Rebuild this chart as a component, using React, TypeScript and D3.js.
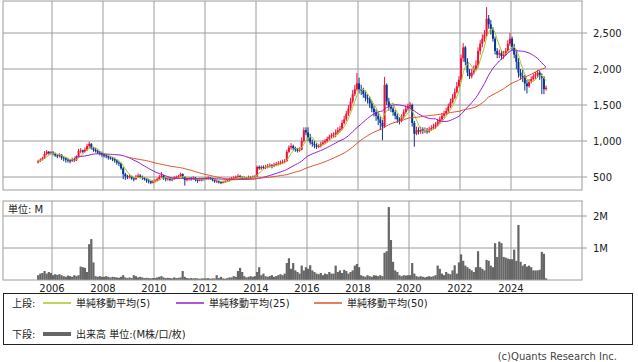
import React from "react";
import * as d3 from "d3";

// Monthly candles, Jun 2005 .. May 2025
const startYear = 2005;
const startMonth = 6;

const open = [
  700, 720, 740, 760, 820, 850, 830,
  840, 820, 800, 790, 810, 770, 760, 740, 730, 720, 750, 730,
  780, 860, 870, 850, 880, 930, 960, 900, 880, 860, 840, 830,
  810, 800, 790, 770, 760, 750, 730, 700, 690, 620, 540, 510,
  500, 510, 480, 470, 500, 520, 500, 490, 470, 450, 440, 420,
  440, 450, 470, 500, 520, 490, 470, 480, 460, 470, 490, 500,
  510, 540, 500, 460, 470, 480, 470, 490, 460, 450, 470, 460,
  470, 480, 490, 480, 460, 440, 440, 430, 420, 430, 440, 450,
  470, 480, 490, 500, 510, 490, 480, 490, 480, 500, 490, 500,
  510, 640, 620, 640, 630, 640, 650, 660, 650, 670, 680, 690,
  700, 710, 720, 850, 910, 930, 900, 880, 870, 880, 1000, 1150,
  1120, 1050, 980, 960, 940, 920, 930, 960, 980, 1000, 1030, 1060,
  1080, 1090, 1120, 1150, 1170, 1250, 1300, 1380, 1450, 1550, 1650, 1720,
  1800, 1720, 1700, 1650, 1600, 1580, 1520, 1450, 1400, 1350, 1300, 1250,
  1200, 1780, 1550, 1480, 1450, 1400, 1350, 1300, 1280, 1330, 1400, 1450,
  1480, 1500, 1250, 1100, 1150, 1130, 1160, 1140, 1150, 1130, 1160, 1180,
  1200, 1230, 1270, 1300, 1350, 1380, 1420, 1480, 1540, 1600, 1680, 1760,
  1850, 2150, 2300, 2100, 1950, 1900, 1950, 2000, 2050, 2250, 2350, 2420,
  2480, 2700, 2620, 2550, 2420, 2250, 2200, 2220, 2180, 2200, 2250, 2350,
  2420, 2300, 2200, 2100, 1950, 1900, 1880, 1800, 1760, 1820, 1860, 1900,
  1920, 1950, 1900, 1880, 1720,
];

const high = [
  740, 760, 780, 860, 875, 860, 860,
  860, 840, 820, 830, 815, 790, 775, 760, 750, 770, 765, 800,
  890, 900, 880, 910, 960, 990, 970, 920, 900, 880, 860, 850,
  830, 820, 800, 790, 780, 770, 750, 720, 700, 640, 560, 530,
  540, 520, 500, 530, 550, 540, 520, 500, 480, 470, 450, 460,
  470, 490, 530, 570, 530, 500, 500, 490, 490, 510, 520, 530,
  560, 550, 510, 490, 500, 500, 510, 500, 480, 490, 490, 490,
  500, 510, 500, 490, 470, 460, 450, 440, 450, 460, 470, 490,
  500, 510, 520, 540, 530, 510, 510, 500, 520, 510, 520, 530,
  660, 660, 660, 660, 670, 680, 690, 680, 700, 710, 720, 730,
  740, 750, 880, 940, 970, 950, 920, 900, 910, 1050, 1190, 1190,
  1190, 1100, 1020, 1000, 970, 960, 990, 1010, 1030, 1060, 1090, 1110,
  1120, 1160, 1190, 1210, 1290, 1350, 1420, 1500, 1600, 1710, 1780, 1944,
  1880, 1780, 1740, 1700, 1650, 1620, 1560, 1490, 1440, 1390, 1340, 1290,
  1890, 1800, 1600, 1520, 1480, 1430, 1380, 1330, 1370, 1440, 1490, 1520,
  1540, 1520, 1280, 1200, 1190, 1200, 1190, 1190, 1180, 1200, 1220, 1240,
  1260, 1310, 1340, 1390, 1420, 1460, 1520, 1590, 1650, 1730, 1820, 1900,
  2200, 2360, 2320, 2150, 2000, 2000, 2050, 2120, 2300, 2400, 2480, 2540,
  2860, 2750, 2680, 2580, 2450, 2290, 2270, 2260, 2250, 2290, 2400, 2500,
  2450, 2350, 2250, 2150, 2000, 1990, 1920, 1850, 1860, 1900, 1940, 1960,
  1990, 1980, 1940, 1900, 1770,
];

const low = [
  690, 710, 730, 750, 800, 810, 815,
  800, 780, 760, 770, 740, 720, 700, 700, 690, 710, 710, 720,
  770, 830, 830, 840, 860, 900, 880, 850, 840, 820, 800, 780,
  770, 760, 740, 740, 720, 700, 670, 650, 600, 470, 460, 470,
  480, 460, 440, 460, 490, 480, 460, 450, 420, 410, 400, 410,
  420, 440, 460, 490, 460, 440, 450, 440, 440, 460, 480, 490,
  500, 480, 380, 440, 450, 450, 460, 440, 420, 440, 440, 450,
  460, 460, 460, 440, 420, 420, 410, 400, 410, 420, 430, 440,
  460, 470, 480, 480, 470, 460, 470, 460, 470, 470, 480, 490,
  500, 600, 600, 610, 610, 620, 630, 620, 640, 650, 660, 670,
  680, 690, 710, 830, 880, 870, 850, 840, 850, 870, 980, 1080,
  1000, 950, 920, 900, 890, 900, 910, 940, 960, 980, 1010, 1040,
  1040, 1050, 1090, 1120, 1150, 1230, 1280, 1350, 1420, 1520, 1620, 1700,
  1660, 1640, 1600, 1550, 1520, 1460, 1400, 1340, 1280, 1220, 1150, 1010,
  1180, 1500, 1420, 1400, 1350, 1300, 1250, 1230, 1260, 1310, 1380, 1420,
  1440, 1200, 920, 1080, 1090, 1100, 1100, 1110, 1100, 1110, 1140, 1160,
  1170, 1200, 1240, 1280, 1320, 1350, 1400, 1460, 1520, 1580, 1660, 1740,
  1820, 2100, 2050, 1900, 1860, 1870, 1920, 1980, 2020, 2200, 2300, 2380,
  2450, 2560, 2480, 2380, 2200, 2150, 2150, 2130, 2140, 2180, 2230, 2320,
  2250, 2150, 2000, 1880, 1850, 1820, 1700, 1660, 1740, 1800, 1840, 1860,
  1880, 1850, 1650, 1650, 1700,
];

const close = [
  720, 740, 760, 820, 850, 830, 840,
  820, 800, 790, 810, 770, 760, 740, 730, 720, 750, 730, 780,
  860, 870, 850, 880, 930, 960, 900, 880, 860, 840, 830, 810,
  800, 790, 770, 760, 750, 730, 700, 690, 620, 540, 510, 500,
  510, 480, 470, 500, 520, 500, 490, 470, 450, 440, 420, 440,
  450, 470, 500, 520, 490, 470, 480, 460, 470, 490, 500, 510,
  540, 500, 460, 470, 480, 470, 490, 460, 450, 470, 460, 470,
  480, 490, 480, 460, 440, 440, 430, 420, 430, 440, 450, 470,
  480, 490, 500, 510, 490, 480, 490, 480, 500, 490, 500, 510,
  640, 620, 640, 630, 640, 650, 660, 650, 670, 680, 690, 700,
  710, 720, 850, 910, 930, 900, 880, 870, 880, 1000, 1150, 1120,
  1050, 980, 960, 940, 920, 930, 960, 980, 1000, 1030, 1060, 1080,
  1090, 1120, 1150, 1170, 1250, 1300, 1380, 1450, 1550, 1650, 1720, 1800,
  1720, 1700, 1650, 1600, 1580, 1520, 1450, 1400, 1350, 1300, 1250, 1200,
  1780, 1550, 1480, 1450, 1400, 1350, 1300, 1280, 1330, 1400, 1450, 1480,
  1500, 1250, 1100, 1150, 1130, 1160, 1140, 1150, 1130, 1160, 1180, 1200,
  1230, 1270, 1300, 1350, 1380, 1420, 1480, 1540, 1600, 1680, 1760, 1850,
  2150, 2300, 2100, 1950, 1900, 1950, 2000, 2050, 2250, 2350, 2420, 2480,
  2700, 2620, 2550, 2420, 2250, 2200, 2220, 2180, 2200, 2250, 2350, 2420,
  2300, 2200, 2100, 1950, 1900, 1880, 1800, 1760, 1820, 1860, 1900, 1920,
  1950, 1900, 1880, 1720, 1740,
];

// volume in millions
const volume = [
  0.15, 0.2, 0.22, 0.28, 0.2, 0.25, 0.22,
  0.15, 0.18, 0.16, 0.18, 0.15, 0.12, 0.1, 0.14, 0.12, 0.1, 0.15, 0.12,
  0.15, 0.42, 0.4, 0.38, 0.25, 1.12, 1.28, 0.55, 0.12, 0.1, 0.12, 0.1,
  0.1, 0.12, 0.1, 0.08, 0.1, 0.09, 0.08, 0.07, 0.1, 0.15, 0.08, 0.06,
  0.08, 0.06, 0.15, 0.12, 0.08, 0.1, 0.08, 0.06, 0.07, 0.06, 0.05, 0.06,
  0.06, 0.08, 0.1, 0.12, 0.08, 0.06, 0.07, 0.06, 0.05, 0.08, 0.06, 0.07,
  0.08, 0.28, 0.1, 0.06, 0.05, 0.06, 0.05, 0.06, 0.05, 0.04, 0.05, 0.05,
  0.05, 0.06, 0.04, 0.05, 0.05, 0.15, 0.06, 0.1, 0.05, 0.04, 0.06, 0.08,
  0.08, 0.12, 0.1, 0.28, 0.38, 0.25, 0.12, 0.08, 0.1, 0.12, 0.1, 0.12,
  0.25, 0.4, 0.15, 0.2, 0.12, 0.1, 0.12, 0.15, 0.1, 0.12, 0.15, 0.18,
  0.15, 0.2, 0.53, 0.68, 0.35, 0.53, 0.3, 0.25, 0.2, 0.45, 0.3, 0.4,
  0.35, 0.46, 0.3, 0.25, 0.2, 0.18, 0.22, 0.15, 0.2, 0.18, 0.25, 0.2,
  0.2, 0.45, 0.25, 0.3, 0.22, 0.32, 0.28, 0.2, 0.25, 0.3, 0.45, 0.5,
  0.4, 0.15, 0.12, 0.1, 0.15, 0.12, 0.1, 0.15, 0.14, 0.12, 0.15, 0.12,
  0.85, 0.9, 2.28, 1.25, 0.57, 0.3, 0.25, 0.15, 0.12, 0.15, 0.14, 0.15,
  0.15, 0.53, 0.2, 0.12, 0.1, 0.12, 0.1, 0.08, 0.1, 0.12, 0.1, 0.12,
  0.15, 0.45, 0.35, 0.2, 0.15, 0.25, 0.2, 0.18, 0.3, 0.46, 0.2, 0.55,
  0.8, 0.6, 0.45, 0.4, 0.35, 0.3, 0.25, 0.4, 0.9, 0.4, 0.35, 0.3,
  0.63, 0.6, 0.45, 0.4, 1.15, 0.72, 1.2, 1.15, 0.72, 0.7, 0.67, 0.65,
  0.65, 0.95, 0.6, 1.72, 0.57, 0.45, 0.5, 0.42, 0.45, 0.4, 0.3, 0.3,
  0.3, 0.32, 0.88, 0.82, 0.05,
];

const priceTicks = [500, 1000, 1500, 2000, 2500];
const volumeTicks = [1, 2];
const volumeTickLabels = ["1M", "2M"];
const yearTicks = [2006, 2008, 2010, 2012, 2014, 2016, 2018, 2020, 2022, 2024];
const maPeriods = [5, 25, 50];
const maStarts = [0, 17, 42];
const maLabels = ["単純移動平均(5)", "単純移動平均(25)", "単純移動平均(50)"];
const maColors = ["#a8c81e", "#9a1ccf", "#e0522a"];

const FONT = "'DejaVu Sans', 'Noto Sans CJK JP', sans-serif";
const GRID = "#9c9c9c";
const UP = "#f01038";
const DOWN = "#0a3590";

export default function App() {
  const W = 638, H = 362;
  const left = 3, right = 582;
  const pTop = 1, pBottom = 190;
  const vTop = 201, vBottom = 280;

  const idxOfYear = (y: number) => (y - startYear) * 12 - (startMonth - 1) - 0.5;
  const x = d3.scaleLinear().domain([idxOfYear(2006), idxOfYear(2024)]).range([52, 511]);
  const y = d3.scaleLinear().domain([500, 2500]).range([177, 33]);
  const yv = d3.scaleLinear().domain([0, 2]).range([vBottom, 216]);

  const n = close.length;
  const idx = d3.range(n);

  const maSeries = maPeriods.map((p, k) =>
    idx
      .filter((i) => i >= maStarts[k])
      .map((i) => {
        const from = Math.max(0, i - p + 1);
        return [i, d3.mean(close.slice(from, i + 1)) as number] as [number, number];
      })
  );
  const line = d3
    .line<[number, number]>()
    .x((d) => x(d[0]))
    .y((d) => y(d[1]));

  const bw = 2;
  const vbw = 2.2;

  return (
    <svg
      width={W}
      height={H}
      style={{ position: "absolute", left: 0, top: 0, background: "#fff" }}
      fontFamily={FONT}
    >
      <defs>
        <clipPath id="pclip">
          <rect x={left} y={pTop} width={right - left} height={pBottom - pTop} />
        </clipPath>
      </defs>
      {/* Price panel grid */}
      {yearTicks.map((yr) => (
        <line key={"pv" + yr} x1={x(idxOfYear(yr))} x2={x(idxOfYear(yr))} y1={pTop} y2={pBottom} stroke={GRID} strokeWidth={1} />
      ))}
      {priceTicks.map((t) => (
        <g key={"pt" + t}>
          <line x1={left} x2={right + 5} y1={y(t)} y2={y(t)} stroke={GRID} strokeWidth={1} />
          <text x={593} y={y(t)} dy="0.35em" fontSize={10} fill="#222">
            {d3.format(",")(t)}
          </text>
        </g>
      ))}
      <rect x={left} y={pTop} width={right - left} height={pBottom - pTop} fill="none" stroke={GRID} strokeWidth={1} />

      {/* Candles */}
      <g clipPath="url(#pclip)">
        {idx.map((i) => {
          const up = close[i] >= open[i];
          const c = up ? UP : DOWN;
          const yo = y(open[i]);
          const yc = y(close[i]);
          return (
            <g key={"c" + i}>
              <line x1={x(i)} x2={x(i)} y1={y(high[i])} y2={y(low[i])} stroke={c} strokeWidth={1} />
              <rect x={x(i) - bw / 2} y={Math.min(yo, yc)} width={bw} height={Math.max(1, Math.abs(yo - yc))} fill={c} />
            </g>
          );
        })}
        {maSeries.map((s, k) => (
          <path key={"ma" + k} d={line(s) || ""} fill="none" stroke={maColors[k]} strokeWidth={1} />
        ))}
      </g>

      {/* Volume panel */}
      {yearTicks.map((yr) => (
        <line key={"vv" + yr} x1={x(idxOfYear(yr))} x2={x(idxOfYear(yr))} y1={vTop} y2={vBottom} stroke={GRID} strokeWidth={1} />
      ))}
      {volumeTicks.map((t, k) => (
        <g key={"vt" + t}>
          <line x1={left} x2={right + 5} y1={yv(t)} y2={yv(t)} stroke={GRID} strokeWidth={1} />
          <text x={593} y={yv(t)} dy="0.35em" fontSize={10} fill="#222">
            {volumeTickLabels[k]}
          </text>
        </g>
      ))}
      {idx.map((i) => (
        <rect key={"v" + i} x={x(i) - vbw / 2} y={yv(volume[i])} width={vbw} height={vBottom - yv(volume[i])} fill="#666" />
      ))}
      <rect x={left} y={vTop} width={right - left} height={vBottom - vTop} fill="none" stroke={GRID} strokeWidth={1} />
      <text x={8} y={209} dy="0.35em" fontSize={10} fill="#222">単位: M</text>

      {/* Year labels */}
      {yearTicks.map((yr) => (
        <text key={"yl" + yr} x={x(idxOfYear(yr))} y={288} dy="0.35em" textAnchor="middle" fontSize={10} fill="#222">
          {yr}
        </text>
      ))}

      {/* Legend */}
      <rect x={3.5} y={293.5} width={629} height={51} fill="none" stroke="#222" strokeWidth={1} />
      <text x={12} y={303} dy="0.35em" fontSize={10} fill="#222">上段:</text>
      {[43, 176, 314].map((lx, k) => (
        <g key={"lg" + k}>
          <line x1={lx} x2={lx + 28} y1={303} y2={303} stroke={maColors[k]} strokeWidth={1.5} />
          <text x={lx + 33} y={303} dy="0.35em" fontSize={10} fill="#222">{maLabels[k]}</text>
        </g>
      ))}
      <text x={12} y={334} dy="0.35em" fontSize={10} fill="#222">下段:</text>
      <line x1={43} x2={71} y1={334} y2={334} stroke="#666" strokeWidth={4} />
      <text x={76} y={334} dy="0.35em" fontSize={10} fill="#222">出来高 単位:(M株/口/枚)</text>

      <text x={617} y={356} dy="0.35em" textAnchor="end" fontSize={10} fill="#444">(c)Quants Research Inc.</text>
    </svg>
  );
}
